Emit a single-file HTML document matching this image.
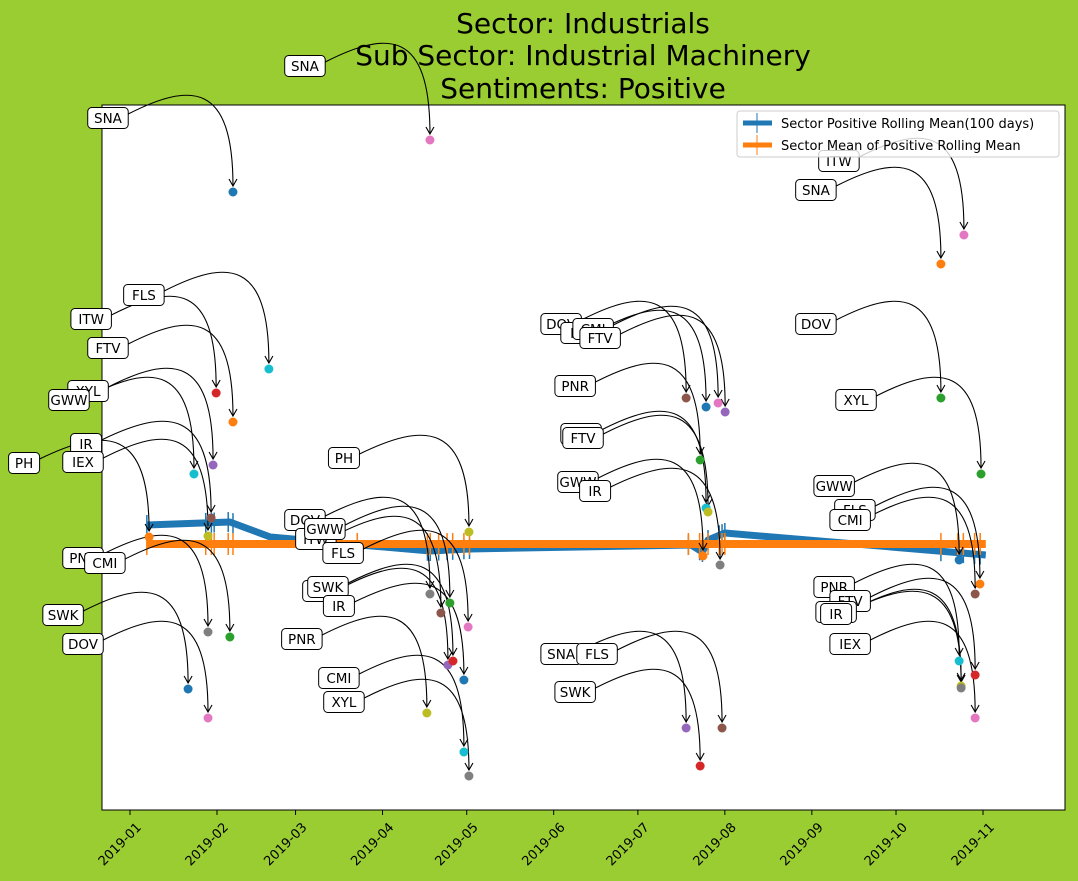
<!DOCTYPE html>
<html><head><meta charset="utf-8"><style>
body{margin:0;background:#9acd32;}
svg{display:block;font-family:"DejaVu Sans","Liberation Sans",sans-serif;}
</style></head><body>
<svg id="c" width="1078" height="881">
<rect x="0" y="0" width="1078" height="881" fill="#9acd32"/>
<rect x="102" y="105" width="963" height="705" fill="#fff" stroke="#000" stroke-width="1"/>
<g id="title" font-size="28" text-anchor="middle" fill="#000">
<text x="583" y="33">Sector:  Industrials</text>
<text x="583" y="65">Sub Sector:  Industrial Machinery</text>
<text x="583" y="98">Sentiments:  Positive</text>
</g>
<g id="lines"></g><g id="ann"></g><g id="pts"></g><g id="xaxis"></g><g id="labels"></g>
<g id="legend">
<rect x="737" y="111" width="322" height="46" rx="3" fill="#fff" fill-opacity="0.8" stroke="#ccc"/>
<g>
<line x1="743" y1="123" x2="772" y2="123" stroke="#1f77b4" stroke-width="5"/><line x1="757" y1="113" x2="757" y2="133" stroke="#1f77b4" stroke-width="1"/>
<text x="781" y="128" font-size="13">Sector Positive Rolling Mean(100 days)</text></g>
<g>
<line x1="743" y1="145" x2="772" y2="145" stroke="#ff7f0e" stroke-width="5"/><line x1="757" y1="135" x2="757" y2="155" stroke="#ff7f0e" stroke-width="1"/>
<text x="781" y="150" font-size="13">Sector Mean of Positive Rolling Mean</text></g>
</g>
</svg>
<script>
const tickLabels=["2019-01","2019-02","2019-03","2019-04","2019-05","2019-06","2019-07","2019-08","2019-09","2019-10","2019-11"];
const tickDays=[0,31,59,90,120,151,181,212,243,273,304];
const rollDays=[6,35.6,50,82,107,121,200,204,206,212,305];
const rollVals=[285,288,273,265,259,261,265,258,270,277,255];
const meanDays=[6,305];
const meanVals=[266,266];
const sampleDays=[6,27,29,30,35,36.7,81,106,107,110,113,115,119,121,199,203,204,206,210,211,212,289,295,297,301,303];
const ptDays=[36.7,106.9,49.5,30.7,36.7,29.6,22.8,28.9,27.8,6.8,27.8,35.6,20.7,27.8,120.8,106.9,110.8,114,120.5,113.3,115.1,119,105.8,119,120.8,198.2,205.3,209.6,212.1,203.2,205.3,206,204.2,210.3,198.2,211,203.2,297.2,289,289,303.3,295.5,302.9,301.2,295.5,301.2,296.2,296.2,301.2];
const ptVals=[618,670,441,417,388,345,336,292,274,273,178,173,121,92,278,216,197,207,183,145,149,130,97,58,34,412,403,407,398,350,302,298,254,245,82,82,44,575,546,412,336,250,226,216,149,135,124,122,92];
const ptNames=["SNA","SNA","FLS","ITW","FTV","XYL","GWW","IR","IEX","PH","PNR","CMI","SWK","DOV","PH","DOV","ITW","GWW","FLS","SWK","SWK","IR","PNR","CMI","XYL","DOV","IEX","CMI","FTV","PNR","FTV","FTV","GWW","IR","SNA","FLS","SWK","ITW","SNA","DOV","XYL","GWW","FLS","CMI","PNR","FTV","FTV","IR","IEX"];
const ptColors=["#1f77b4","#e377c2","#17becf","#d62728","#ff7f0e","#9467bd","#17becf","#8c564b","#bcbd22","#ff7f0e","#7f7f7f","#2ca02c","#1f77b4","#e377c2","#bcbd22","#7f7f7f","#8c564b","#2ca02c","#e377c2","#9467bd","#d62728","#1f77b4","#bcbd22","#17becf","#7f7f7f","#8c564b","#1f77b4","#e377c2","#9467bd","#2ca02c","#17becf","#bcbd22","#ff7f0e","#7f7f7f","#9467bd","#8c564b","#d62728","#e377c2","#ff7f0e","#2ca02c","#2ca02c","#1f77b4","#ff7f0e","#8c564b","#17becf","#d62728","#bcbd22","#7f7f7f","#e377c2"];
const NS="http://www.w3.org/2000/svg";
const X=d=>130+d*853/304;
const Y=v=>810-v;
function mk(t,a,p){const e=document.createElementNS(NS,t);for(const k in a)e.setAttribute(k,a[k]);p.appendChild(e);return e;}
const L=document.getElementById('lines');
function poly(ds,vs,c,w,name){const e=mk('polyline',{points:ds.map((d,i)=>X(d)+','+Y(vs[i])).join(' '),fill:'none',stroke:c,'stroke-width':w,'stroke-linejoin':'round'},L);

}
function interp(ds,vs,d){for(let i=0;i<ds.length-1;i++){if(d>=ds[i]&&d<=ds[i+1])return vs[i]+(vs[i+1]-vs[i])*(d-ds[i])/(ds[i+1]-ds[i]);}return vs[vs.length-1];}
poly(rollDays,rollVals,'#1f77b4',7,'rolling-mean-line');
sampleDays.forEach(d=>{const v=interp(rollDays,rollVals,d);const e=mk('line',{x1:X(d),x2:X(d),y1:Y(v)-10,y2:Y(v)+10,stroke:'#1f77b4','stroke-width':1.5},L);

});
poly(meanDays,meanVals,'#ff7f0e',8,'mean-line');
sampleDays.forEach(d=>{const v=interp(meanDays,meanVals,d);const e=mk('line',{x1:X(d),x2:X(d),y1:Y(v)-11,y2:Y(v)+11,stroke:'#ff7f0e','stroke-width':1.5},L);

});
const P=document.getElementById('pts'),A=document.getElementById('ann'),LB=document.getElementById('labels');
ptDays.forEach((d,i)=>{const px=X(d),py=Y(ptVals[i]);
const c=mk('circle',{cx:px,cy:py,r:4.5,fill:ptColors[i]},P);


const lx=px-125,ly=py-74,w=ptNames[i].length*9.5+12;
const sx=lx+w/2,sy=ly-4,ey=py-6;
const pa=mk('path',{d:`M${sx},${sy} C${sx+(px-sx)*0.6},${sy-32} ${px},${sy-32} ${px},${ey}`,fill:'none',stroke:'#000','stroke-width':1.1},A);


const ah=mk('path',{d:`M${px-4},${ey-7} L${px},${ey} L${px+4},${ey-7}`,fill:'none',stroke:'#000','stroke-width':1.1},A);


const g=mk('g',{},LB);


mk('rect',{x:lx-w/2,y:ly-10.5,width:w,height:21,rx:4,fill:'#fff',stroke:'#000','stroke-width':1},g);
const t=mk('text',{x:lx,y:ly+5,'font-size':13.5,'text-anchor':'middle'},g);t.textContent=ptNames[i];});
const XA=document.getElementById('xaxis');
tickDays.forEach((d,i)=>{const x=X(d);
const tk=mk('line',{x1:x,x2:x,y1:810,y2:815,stroke:'#000'},XA);


const ax=x+12,ay=828;
const t=mk('text',{x:ax,y:ay,'font-size':13,'text-anchor':'end',transform:`rotate(-45 ${ax} ${ay})`},XA);


t.textContent=tickLabels[i];});
</script>
</body></html>
